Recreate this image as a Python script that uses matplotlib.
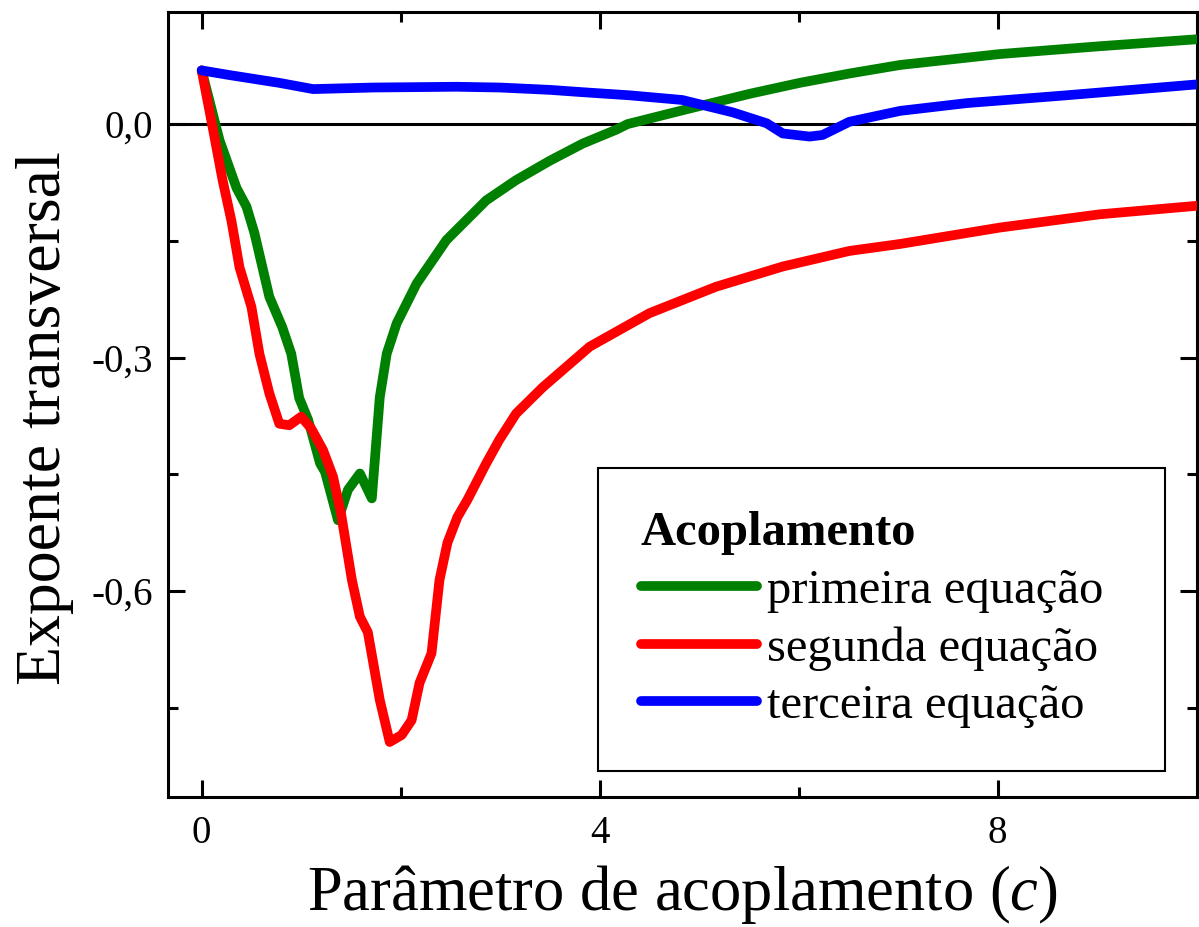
import matplotlib
matplotlib.use("Agg")
import matplotlib.pyplot as plt
from matplotlib.ticker import FixedLocator, FuncFormatter

plt.rcParams['font.family'] = 'Liberation Serif'
plt.rcParams['mathtext.fontset'] = 'custom'
plt.rcParams['mathtext.it'] = 'Liberation Serif:italic'
plt.rcParams['mathtext.rm'] = 'Liberation Serif'

# primeira equacao (verde)
c_prim = [0, 0.18, 0.35, 0.45, 0.53, 0.68, 0.81, 0.90, 0.98, 1.07, 1.19, 1.24,
          1.37, 1.47, 1.59, 1.71, 1.79, 1.86, 1.96, 2.16, 2.46, 2.86, 3.16,
          3.5, 3.83, 4.17, 4.28, 4.84, 5.51, 6.01, 6.51, 7.02, 8.02, 9.02, 10.0]
l_prim = [0.069, -0.021, -0.082, -0.106, -0.140, -0.222, -0.261, -0.295,
          -0.352, -0.380, -0.436, -0.447, -0.509, -0.470, -0.449, -0.481,
          -0.351, -0.295, -0.256, -0.205, -0.149, -0.098, -0.072, -0.047,
          -0.025, -0.007, 0.0, 0.018, 0.039, 0.053, 0.065, 0.076, 0.090,
          0.100, 0.109]

# segunda equacao (vermelho)
c_seg = [0, 0.11, 0.21, 0.30, 0.38, 0.50, 0.58, 0.68, 0.78, 0.88, 1.00, 1.10,
         1.22, 1.32, 1.40, 1.51, 1.59, 1.67, 1.79, 1.89, 2.01, 2.11, 2.19,
         2.31, 2.39, 2.47, 2.57, 2.67, 2.86, 2.99, 3.16, 3.43, 3.90, 4.50,
         5.17, 5.84, 6.51, 7.02, 8.02, 9.02, 10.0]
l_seg = [0.069, -0.004, -0.072, -0.125, -0.184, -0.235, -0.295, -0.346,
         -0.385, -0.387, -0.376, -0.391, -0.419, -0.453, -0.500, -0.586,
         -0.633, -0.653, -0.740, -0.794, -0.785, -0.766, -0.718, -0.680,
         -0.586, -0.538, -0.505, -0.483, -0.436, -0.406, -0.372, -0.338,
         -0.286, -0.243, -0.209, -0.183, -0.163, -0.154, -0.133, -0.116,
         -0.105]

# terceira equacao (azul)
c_ter = [0, 0.28, 0.78, 1.12, 1.72, 2.56, 3.0, 3.5, 3.83, 4.3, 4.83, 5.34,
         5.68, 5.84, 6.11, 6.24, 6.51, 7.02, 7.69, 8.69, 10.0]
l_ter = [0.069, 0.063, 0.053, 0.045, 0.047, 0.048, 0.047, 0.044, 0.041, 0.037,
         0.031, 0.015, 0.001, -0.012, -0.016, -0.014, 0.003, 0.017, 0.027,
         0.037, 0.051]

nomes = ['primeira equação', 'segunda equação', 'terceira equação']
cores = ['#008000', '#ff0000', '#0000ff']

fig = plt.figure(figsize=(11.99, 9.27), dpi=100)
ax = fig.add_axes([0.140, 0.140, 0.858, 0.847])

ax.axhline(0, color='black', lw=2.2, zorder=1)
for c, l, nome, cor in zip([c_prim, c_seg, c_ter], [l_prim, l_seg, l_ter], nomes, cores):
    ax.plot(c, l, color=cor, lw=7, label=nome, solid_capstyle='round',
            solid_joinstyle='round', zorder=3)

ax.set_xlim(-0.34, 10.0)
ax.set_ylim(-0.865, 0.144)

ax.xaxis.set_major_locator(FixedLocator([0, 4, 8]))
ax.xaxis.set_minor_locator(FixedLocator([2, 6]))
ax.yaxis.set_major_locator(FixedLocator([0.0, -0.3, -0.6]))
ax.yaxis.set_minor_locator(FixedLocator([-0.15, -0.45, -0.75]))
ax.xaxis.set_major_formatter(FuncFormatter(lambda v, p: '%d' % v))
ax.yaxis.set_major_formatter(FuncFormatter(lambda v, p: ('%.1f' % v).replace('.', ',')))

ax.tick_params(which='both', direction='in', top=True, right=True, width=2.2,
               labelsize=28)
ax.tick_params(which='major', length=12)
ax.tick_params(which='minor', length=7)
ax.tick_params(axis='x', pad=13)
ax.tick_params(axis='y', pad=11)
for s in ax.spines.values():
    s.set_linewidth(2.2)

ax.set_xlabel(r'Parâmetro de acoplamento ($c$)', fontsize=45, labelpad=8)
ax.set_ylabel('Expoente transversal', fontsize=46, labelpad=12)
ax.yaxis.label.set_y(0.483)

leg = ax.legend(loc='upper left', bbox_to_anchor=(0.418, 0.0, 0.551, 0.419),
                mode='expand', fontsize=35,
                title='Acoplamento', title_fontproperties={'weight': 'bold', 'size': 35},
                alignment='left', frameon=True, fancybox=False, framealpha=1,
                edgecolor='black', handlelength=2.4, handletextpad=0.2,
                borderpad=0.88, labelspacing=0.28, borderaxespad=0)
leg.get_frame().set_linewidth(1.5)

fig.savefig('out.png', dpi=100)
